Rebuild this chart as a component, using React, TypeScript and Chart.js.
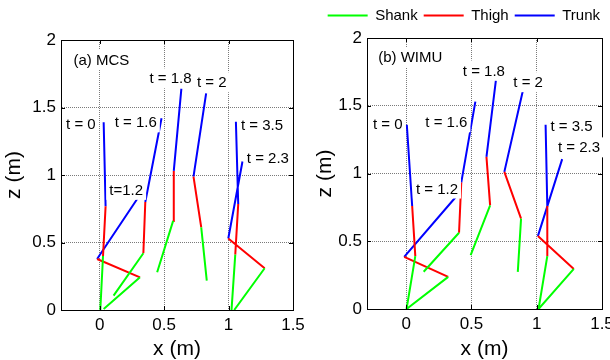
import React, { useEffect, useRef } from 'react';
import { Chart, registerables } from 'chart.js';

Chart.register(...registerables);

const FONT = '"Liberation Sans", Arial, Helvetica, sans-serif';

// ---------- shared ----------
const legendLabels = ['Shank', 'Thigh', 'Trunk'];
const segmentColors = ['#00ff00', '#ff0000', '#0000ff'];
const xTickValues = [0, 0.5, 1, 1.5];
const yTickValues = [0, 0.5, 1, 1.5, 2];

// ---------- (a) MCS ----------
const mcsTimeLabels = ['t = 0', 't=1.2', 't = 1.6', 't = 1.8', 't = 2', 't = 2.3', 't = 3.5'];
const mcsAnkleX = [0.005, 0.031, 0.108, 0.446, 0.831, 1.044, 1.023];
const mcsAnkleZ = [0.0, 0.007, 0.106, 0.28, 0.217, 0.0, 0.0];
const mcsKneeX = [0.026, 0.313, 0.339, 0.57, 0.788, 1.28, 1.052];
const mcsKneeZ = [0.4, 0.242, 0.42, 0.66, 0.612, 0.309, 0.41];
const mcsHipX = [0.046, -0.02, 0.354, 0.575, 0.728, 0.998, 1.075];
const mcsHipZ = [0.768, 0.378, 0.8, 1.03, 0.988, 0.53, 0.785];
const mcsShoulderX = [0.031, 0.3, 0.48, 0.634, 0.826, 1.108, 1.057];
const mcsShoulderZ = [1.39, 0.835, 1.42, 1.64, 1.605, 1.1, 1.395];
const mcsLabelX = [-0.146, 0.206, 0.28, 0.55, 0.87, 1.305, 1.26];
const mcsLabelZ = [1.378, 0.89, 1.39, 1.716, 1.687, 1.13, 1.373];
const mcsTitle = '(a) MCS';
const mcsTitleX = 0.013;
const mcsTitleZ = 1.854;

// ---------- (b) WIMU ----------
const wimuTimeLabels = ['t = 0', 't = 1.2', 't = 1.6', 't = 1.8', 't = 2', 't = 2.3', 't = 3.5'];
const wimuAnkleX = [0.003, 0.003, 0.134, 0.494, 0.855, 1.014, 1.014];
const wimuAnkleZ = [0.0, 0.0, 0.275, 0.397, 0.274, 0.0, 0.0];
const wimuKneeX = [0.07, 0.322, 0.405, 0.643, 0.88, 1.284, 1.081];
const wimuKneeZ = [0.39, 0.237, 0.563, 0.765, 0.667, 0.296, 0.39];
const wimuHipX = [0.046, -0.015, 0.422, 0.615, 0.752, 1.009, 1.081];
const wimuHipZ = [0.76, 0.385, 0.933, 1.123, 1.012, 0.538, 0.76];
const wimuShoulderX = [0.005, 0.385, 0.53, 0.687, 0.893, 1.195, 1.068];
const wimuShoulderZ = [1.36, 0.832, 1.53, 1.686, 1.607, 1.106, 1.36];
const wimuLabelX = [-0.141, 0.236, 0.308, 0.595, 0.934, 1.324, 1.266];
const wimuLabelZ = [1.365, 0.889, 1.378, 1.76, 1.674, 1.193, 1.353];
const wimuTitle = '(b) WIMU';
const wimuTitleX = 0.031;
const wimuTitleZ = 1.86;

function segments(ax: number[], az: number[], bx: number[], bz: number[]) {
  const pts: any[] = [];
  ax.forEach((_, i) => {
    pts.push({ x: ax[i], y: az[i] });
    pts.push({ x: bx[i], y: bz[i] });
    pts.push({ x: null, y: null });
  });
  return pts;
}

const annotPlugin = {
  id: 'annot',
  afterDatasetsDraw(chart: any, _args: any, opts: any) {
    const { ctx, scales, chartArea } = chart;
    const xs = scales.x;
    const ys = scales.y;
    ctx.save();
    ctx.font = '15px ' + FONT;
    ctx.textAlign = 'center';
    ctx.textBaseline = 'middle';
    (opts.items || []).forEach((it: any) => {
      const px = xs.getPixelForValue(it.x);
      const py = ys.getPixelForValue(it.y);
      const w = ctx.measureText(it.text).width;
      ctx.fillStyle = '#ffffff';
      ctx.fillRect(px - w / 2 - 3, py - 10, w + 6, 20);
      ctx.fillStyle = '#000000';
      ctx.fillText(it.text, px, py + 1);
    });
    // inward tick marks on all four sides
    ctx.strokeStyle = '#000000';
    ctx.lineWidth = 1;
    ctx.beginPath();
    xs.ticks.forEach((t: any) => {
      const p = Math.round(xs.getPixelForValue(t.value)) + 0.5;
      ctx.moveTo(p, chartArea.bottom);
      ctx.lineTo(p, chartArea.bottom - 4);
      ctx.moveTo(p, chartArea.top);
      ctx.lineTo(p, chartArea.top + 4);
    });
    ys.ticks.forEach((t: any) => {
      const p = Math.round(ys.getPixelForValue(t.value)) + 0.5;
      ctx.moveTo(chartArea.left, p);
      ctx.lineTo(chartArea.left + 4, p);
      ctx.moveTo(chartArea.right, p);
      ctx.lineTo(chartArea.right - 4, p);
    });
    ctx.stroke();
    ctx.restore();
  },
};

function makeChart(canvas: HTMLCanvasElement, cfg: any) {
  const d = cfg.data;
  const datasets = [
    segments(d.ankleX, d.ankleZ, d.kneeX, d.kneeZ),
    segments(d.kneeX, d.kneeZ, d.hipX, d.hipZ),
    segments(d.hipX, d.hipZ, d.shoulderX, d.shoulderZ),
  ].map((pts, i) => ({
    label: legendLabels[i],
    data: pts,
    borderColor: segmentColors[i],
    backgroundColor: segmentColors[i],
    borderWidth: 2,
    pointRadius: 0,
    pointHoverRadius: 0,
    spanGaps: false,
    fill: false,
    tension: 0,
  }));

  const items = d.timeLabels.map((t: string, i: number) => ({ text: t, x: d.labelX[i], y: d.labelZ[i] }));
  items.push({ text: d.title, x: d.titleX, y: d.titleZ });

  const gridColor = '#7a7a7a';

  return new Chart(canvas, {
    type: 'line',
    data: { datasets },
    plugins: [annotPlugin],
    options: {
      animation: false,
      responsive: true,
      maintainAspectRatio: false,
      events: [],
      layout: { padding: cfg.padding },
      plugins: {
        tooltip: { enabled: false },
        legend: {
          display: cfg.legend,
          position: 'top',
          align: 'end',
          labels: {
            usePointStyle: true,
            pointStyle: 'line',
            pointStyleWidth: 40,
            padding: 6,
            color: '#000000',
            font: { size: 15, family: FONT },
          },
        },
        annot: { items },
      } as any,
      scales: {
        x: {
          type: 'linear',
          position: 'bottom',
          min: -0.3,
          max: 1.5,
          afterBuildTicks: (axis: any) => {
            axis.ticks = xTickValues.map((v) => ({ value: v }));
          },
          afterFit: (axis: any) => {
            axis.height = cfg.bottomH;
            axis.paddingLeft = 0;
            axis.paddingRight = 0;
          },
          ticks: {
            color: '#000000',
            padding: 5,
            font: { size: 17, family: FONT },
            callback: (v: any) => String(v),
            autoSkip: false,
            maxRotation: 0,
          },
          grid: { color: gridColor, drawTicks: false, lineWidth: 1 },
          border: { display: true, color: '#000000', width: 1, dash: [1, 1] },
          title: {
            display: true,
            text: 'x (m)',
            color: '#000000',
            font: { size: 21, family: FONT, lineHeight: 1 },
            padding: { top: 0, bottom: 0 },
          },
        },
        x2: {
          type: 'linear',
          position: 'top',
          min: -0.3,
          max: 1.5,
          afterFit: (axis: any) => {
            axis.height = cfg.topH;
            axis.paddingLeft = 0;
            axis.paddingRight = 0;
          },
          ticks: { display: false },
          grid: { display: false, drawTicks: false },
          border: { display: true, color: '#000000', width: 1 },
        },
        y: {
          type: 'linear',
          position: 'left',
          min: 0,
          max: 2,
          afterBuildTicks: (axis: any) => {
            axis.ticks = yTickValues.map((v) => ({ value: v }));
          },
          afterFit: (axis: any) => {
            axis.width = cfg.leftW;
            axis.paddingTop = 0;
            axis.paddingBottom = 0;
          },
          ticks: {
            color: '#000000',
            padding: 5,
            font: { size: 17, family: FONT },
            callback: (v: any) => String(v),
            autoSkip: false,
          },
          grid: { color: gridColor, drawTicks: false, lineWidth: 1 },
          border: { display: true, color: '#000000', width: 1, dash: [1, 1] },
          title: {
            display: true,
            text: 'z (m)',
            color: '#000000',
            font: { size: 21, family: FONT, lineHeight: 1 },
            padding: { top: cfg.yTitlePad, bottom: 0 },
          },
        },
        y2: {
          type: 'linear',
          position: 'right',
          min: 0,
          max: 2,
          afterFit: (axis: any) => {
            axis.width = cfg.rightW;
            axis.paddingTop = 0;
            axis.paddingBottom = 0;
          },
          ticks: { display: false },
          grid: { display: false, drawTicks: false },
          border: { display: true, color: '#000000', width: 1 },
        },
      },
    } as any,
  });
}

export default function App() {
  const leftRef = useRef<HTMLCanvasElement>(null);
  const rightRef = useRef<HTMLCanvasElement>(null);

  useEffect(() => {
    Chart.defaults.font.family = FONT;
    Chart.defaults.color = '#000000';
    const left = makeChart(leftRef.current as HTMLCanvasElement, {
      legend: false,
      padding: { top: 0, right: 0, left: 0, bottom: 0 },
      leftW: 61,
      rightW: 12,
      topH: 40,
      bottomH: 50,
      yTitlePad: 4,
      data: {
        timeLabels: mcsTimeLabels,
        ankleX: mcsAnkleX, ankleZ: mcsAnkleZ,
        kneeX: mcsKneeX, kneeZ: mcsKneeZ,
        hipX: mcsHipX, hipZ: mcsHipZ,
        shoulderX: mcsShoulderX, shoulderZ: mcsShoulderZ,
        labelX: mcsLabelX, labelZ: mcsLabelZ,
        title: mcsTitle, titleX: mcsTitleX, titleZ: mcsTitleZ,
      },
    });
    const right = makeChart(rightRef.current as HTMLCanvasElement, {
      legend: true,
      padding: { top: 2, right: 4, left: 0, bottom: 0 },
      leftW: 62,
      rightW: 4,
      topH: 5,
      bottomH: 51,
      yTitlePad: 10,
      data: {
        timeLabels: wimuTimeLabels,
        ankleX: wimuAnkleX, ankleZ: wimuAnkleZ,
        kneeX: wimuKneeX, kneeZ: wimuKneeZ,
        hipX: wimuHipX, hipZ: wimuHipZ,
        shoulderX: wimuShoulderX, shoulderZ: wimuShoulderZ,
        labelX: wimuLabelX, labelZ: wimuLabelZ,
        title: wimuTitle, titleX: wimuTitleX, titleZ: wimuTitleZ,
      },
    });
    return () => {
      left.destroy();
      right.destroy();
    };
  }, []);

  return (
    <div style={{ position: 'absolute', left: 0, top: 0, width: 610, height: 360, background: '#ffffff', overflow: 'hidden' }}>
      <div style={{ position: 'absolute', left: 0, top: 0, width: 305, height: 360 }}>
        <canvas ref={leftRef} />
      </div>
      <div style={{ position: 'absolute', left: 305, top: 0, width: 305, height: 360 }}>
        <canvas ref={rightRef} />
      </div>
    </div>
  );
}
